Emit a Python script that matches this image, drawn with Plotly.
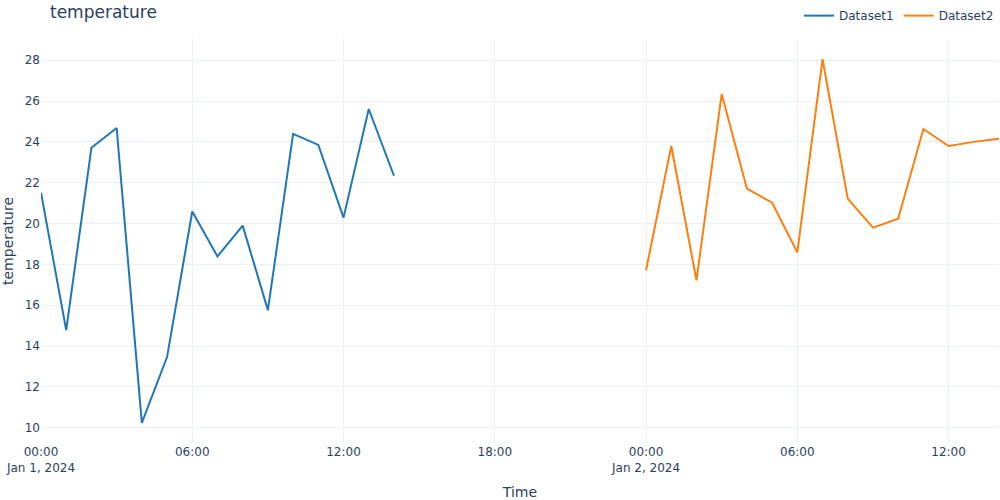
import plotly.graph_objects as go
import pandas as pd

times1 = pd.date_range("2024-01-01 00:00", periods=15, freq="h")
times2 = pd.date_range("2024-01-02 00:00", periods=15, freq="h")
dataset1 = [21.51, 14.78, 23.71, 24.68, 10.24, 13.46, 20.59, 18.39, 19.9, 15.76,
            24.39, 23.85, 20.29, 25.61, 22.34]
dataset2 = [17.71, 23.8, 17.22, 26.34, 21.71, 21.02, 18.59, 28.05, 21.22, 19.8,
            20.24, 24.63, 23.8, 24.0, 24.15]

fig = go.Figure()
fig.add_trace(go.Scatter(x=times1, y=dataset1, mode="lines", name="Dataset1",
                         line=dict(color="#1f77b4", width=2)))
fig.add_trace(go.Scatter(x=times2, y=dataset2, mode="lines", name="Dataset2",
                         line=dict(color="#ff7f0e", width=2)))

fig.update_layout(
    template="plotly_white",
    width=1000, height=500,
    font=dict(family="DejaVu Sans"),
    title=dict(text="temperature", y=0.975, yanchor="middle"),
    xaxis_title="Time",
    yaxis_title="temperature",
    margin=dict(l=41, r=1, t=37, b=57),
    legend=dict(orientation="h", x=1, xanchor="right", y=1.022, yanchor="bottom"),
)
fig.write_html(
    "out.html",
    config={"displayModeBar": False},
    post_script="document.body.style.margin='0px';document.body.style.overflow='hidden';",
)
